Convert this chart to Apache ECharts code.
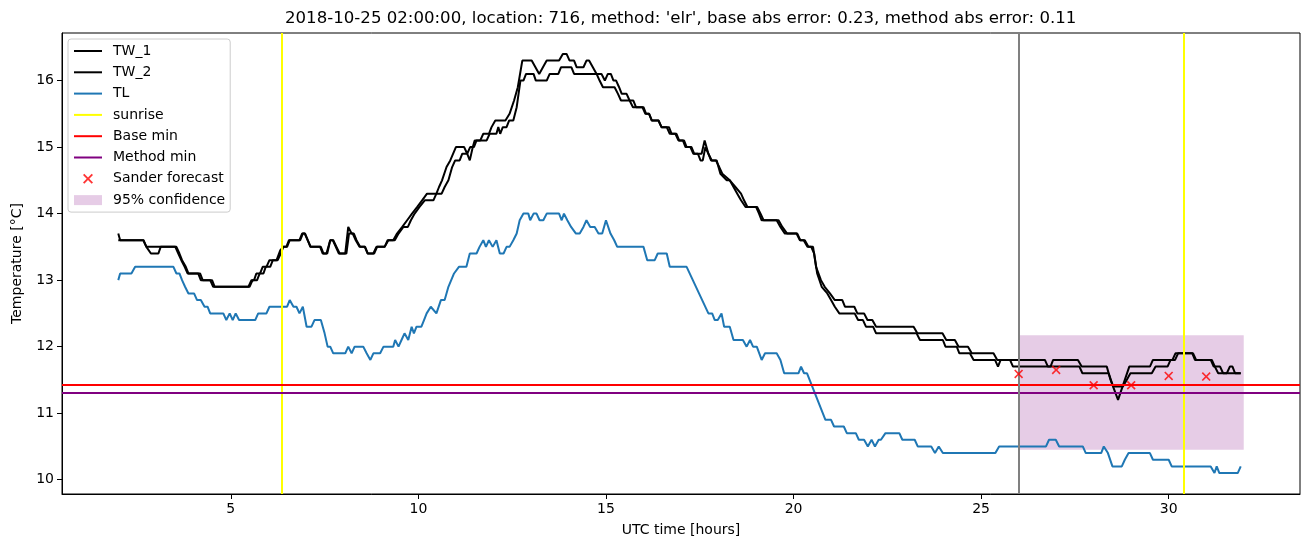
<!DOCTYPE html>
<html>
<head>
<meta charset="utf-8">
<script src="https://cdn.jsdelivr.net/npm/echarts@6/dist/echarts.min.js"></script>
<style>
html,body{margin:0;padding:0;background:#fff;}
#chart{width:1311px;height:547px;}
</style>
</head>
<body>
<div id="chart"></div>
<script>
// ---- data (hours, °C) ----
const TW_1 = [[2.00,13.7],[2.05,13.6],[2.67,13.6],[2.75,13.5],[3.52,13.5],[3.6,13.4],[3.68,13.3],[3.77,13.2],[3.85,13.1],[4.18,13.1],[4.25,13.0],[4.5,13.0],[4.57,12.9],[5.47,12.9],[5.55,13.0],[5.62,13.0],[5.68,13.1],[5.78,13.1],[5.85,13.2],[5.95,13.2],[6.03,13.3],[6.22,13.3],[6.32,13.45],[6.4,13.5],[6.48,13.5],[6.55,13.6],[6.83,13.6],[6.9,13.7],[6.97,13.7],[7.05,13.6],[7.12,13.5],[7.38,13.5],[7.45,13.4],[7.55,13.4],[7.65,13.6],[7.72,13.6],[7.88,13.4],[8.05,13.4],[8.13,13.8],[8.22,13.7],[8.28,13.7],[8.35,13.6],[8.45,13.5],[8.58,13.5],[8.65,13.4],[8.8,13.4],[8.88,13.5],[9.1,13.5],[9.18,13.6],[9.33,13.6],[9.43,13.7],[9.57,13.8],[9.7,13.9],[9.83,14.0],[9.97,14.1],[10.1,14.2],[10.23,14.3],[10.48,14.3],[10.55,14.4],[10.63,14.5],[10.75,14.7],[10.85,14.8],[11.0,15.0],[11.22,15.0],[11.3,14.9],[11.38,15.0],[11.48,15.0],[11.55,15.1],[11.65,15.1],[11.73,15.2],[11.88,15.2],[11.95,15.3],[12.05,15.4],[12.32,15.4],[12.43,15.5],[12.55,15.7],[12.65,15.9],[12.77,16.3],[13.02,16.3],[13.12,16.2],[13.22,16.1],[13.32,16.2],[13.42,16.3],[13.75,16.3],[13.85,16.4],[13.95,16.4],[14.03,16.3],[14.15,16.3],[14.22,16.2],[14.4,16.2],[14.48,16.3],[14.55,16.3],[14.65,16.2],[14.75,16.1],[14.88,16.1],[14.97,16.0],[15.05,16.1],[15.13,16.1],[15.2,16.0],[15.27,16.0],[15.35,15.9],[15.42,15.8],[15.55,15.8],[15.63,15.7],[15.72,15.6],[15.97,15.6],[16.05,15.5],[16.15,15.5],[16.22,15.4],[16.4,15.4],[16.48,15.3],[16.68,15.3],[16.75,15.2],[16.85,15.2],[16.93,15.1],[17.05,15.1],[17.12,15.0],[17.25,15.0],[17.33,14.9],[17.55,14.9],[17.63,15.1],[17.73,14.9],[17.8,14.8],[17.95,14.8],[18.05,14.6],[18.22,14.5],[18.3,14.5],[18.4,14.4],[18.5,14.3],[18.6,14.2],[18.72,14.1],[19.0,14.1],[19.08,14.0],[19.15,13.9],[19.6,13.9],[19.7,13.8],[19.83,13.7],[20.08,13.7],[20.17,13.6],[20.3,13.6],[20.4,13.5],[20.52,13.5],[20.6,13.2],[20.73,13.0],[20.83,12.9],[20.97,12.8],[21.1,12.7],[21.3,12.7],[21.37,12.6],[21.62,12.6],[21.7,12.5],[21.88,12.5],[21.97,12.4],[22.1,12.4],[22.2,12.3],[23.2,12.3],[23.3,12.2],[23.97,12.2],[24.07,12.1],[24.3,12.1],[24.4,12.0],[24.65,12.0],[24.75,11.9],[25.33,11.9],[25.43,11.8],[26.7,11.8],[26.78,11.7],[26.85,11.7],[26.92,11.8],[27.58,11.8],[27.68,11.7],[28.35,11.7],[28.45,11.5],[28.65,11.2],[28.83,11.5],[28.95,11.7],[29.5,11.7],[29.58,11.8],[30.0,11.8],[30.1,11.8],[30.18,11.9],[30.65,11.9],[30.73,11.8],[31.15,11.8],[31.23,11.7],[31.32,11.6],[31.55,11.6],[31.63,11.7],[31.7,11.7],[31.77,11.6],[31.92,11.6]];

const TW_2 = [[2.00,13.6],[2.67,13.6],[2.75,13.5],[2.8,13.5],[2.87,13.4],[3.07,13.4],[3.13,13.5],[3.55,13.5],[3.63,13.4],[3.7,13.3],[3.8,13.2],[3.87,13.1],[4.13,13.1],[4.2,13.0],[4.45,13.0],[4.53,12.9],[5.5,12.9],[5.58,13.0],[5.7,13.0],[5.77,13.1],[5.87,13.1],[5.93,13.2],[6.05,13.2],[6.12,13.3],[6.25,13.3],[6.33,13.4],[6.4,13.5],[6.5,13.5],[6.57,13.6],[6.85,13.6],[6.92,13.7],[6.98,13.7],[7.05,13.6],[7.13,13.5],[7.4,13.5],[7.47,13.4],[7.57,13.4],[7.65,13.6],[7.73,13.6],[7.9,13.4],[8.08,13.4],[8.15,13.7],[8.25,13.7],[8.33,13.6],[8.43,13.5],[8.57,13.5],[8.65,13.4],[8.82,13.4],[8.9,13.5],[9.1,13.5],[9.2,13.6],[9.37,13.6],[9.47,13.7],[9.6,13.8],[9.72,13.8],[9.8,13.9],[9.9,14.0],[10.03,14.1],[10.17,14.2],[10.4,14.2],[10.48,14.3],[10.62,14.3],[10.7,14.4],[10.8,14.5],[10.9,14.7],[10.98,14.8],[11.1,14.8],[11.17,14.9],[11.3,14.9],[11.37,14.8],[11.45,15.0],[11.5,15.1],[11.82,15.1],[11.9,15.2],[12.08,15.2],[12.13,15.3],[12.18,15.2],[12.25,15.3],[12.35,15.3],[12.42,15.4],[12.53,15.4],[12.62,15.6],[12.72,16.0],[12.8,16.0],[12.87,16.1],[13.07,16.1],[13.13,16.0],[13.42,16.0],[13.5,16.1],[13.73,16.1],[13.8,16.2],[14.08,16.2],[14.15,16.1],[14.75,16.1],[14.83,16.0],[14.92,15.9],[15.23,15.9],[15.32,15.8],[15.4,15.7],[15.73,15.7],[15.8,15.6],[16.0,15.6],[16.07,15.5],[16.15,15.5],[16.22,15.4],[16.4,15.4],[16.48,15.3],[16.62,15.3],[16.7,15.2],[16.88,15.2],[16.95,15.1],[17.08,15.1],[17.15,15.0],[17.28,15.0],[17.35,14.9],[17.45,14.9],[17.52,14.8],[17.58,14.8],[17.65,15.0],[17.73,14.9],[17.82,14.8],[17.93,14.8],[18.02,14.7],[18.1,14.6],[18.3,14.5],[18.45,14.4],[18.6,14.3],[18.68,14.2],[18.77,14.1],[19.03,14.1],[19.12,14.0],[19.2,13.9],[19.55,13.9],[19.65,13.8],[19.77,13.7],[20.1,13.7],[20.18,13.6],[20.27,13.6],[20.37,13.5],[20.47,13.5],[20.55,13.4],[20.63,13.1],[20.75,12.9],[20.9,12.8],[21.0,12.7],[21.1,12.6],[21.22,12.5],[21.63,12.5],[21.72,12.4],[21.85,12.4],[21.93,12.3],[22.12,12.3],[22.2,12.2],[23.28,12.2],[23.37,12.1],[23.98,12.1],[24.05,12.0],[24.35,12.0],[24.42,11.9],[24.7,11.9],[24.8,11.8],[25.37,11.8],[25.45,11.7],[25.52,11.8],[25.77,11.8],[25.85,11.7],[27.62,11.7],[27.7,11.6],[28.4,11.6],[28.52,11.4],[28.78,11.4],[28.88,11.5],[28.98,11.6],[29.55,11.6],[29.65,11.7],[29.97,11.7],[30.05,11.8],[30.17,11.8],[30.25,11.9],[30.63,11.9],[30.7,11.8],[31.12,11.8],[31.2,11.7],[31.37,11.7],[31.45,11.6],[31.92,11.6]];

const TL = [[2.0,13.0],[2.05,13.1],[2.35,13.1],[2.45,13.2],[3.47,13.2],[3.55,13.1],[3.63,13.1],[3.7,13.0],[3.78,12.9],[3.87,12.8],[4.02,12.8],[4.1,12.7],[4.2,12.7],[4.3,12.6],[4.38,12.6],[4.45,12.5],[4.8,12.5],[4.88,12.4],[4.97,12.5],[5.05,12.4],[5.13,12.5],[5.22,12.4],[5.65,12.4],[5.73,12.5],[5.95,12.5],[6.03,12.6],[6.5,12.6],[6.57,12.7],[6.67,12.6],[6.75,12.6],[6.83,12.5],[6.92,12.6],[7.02,12.3],[7.15,12.3],[7.23,12.4],[7.4,12.4],[7.5,12.2],[7.58,12.0],[7.65,12.0],[7.73,11.9],[8.05,11.9],[8.13,12.0],[8.22,11.9],[8.3,12.0],[8.53,12.0],[8.62,11.9],[8.72,11.8],[8.8,11.9],[8.98,11.9],[9.07,12.0],[9.33,12.0],[9.38,12.1],[9.47,12.0],[9.55,12.1],[9.63,12.2],[9.73,12.1],[9.82,12.3],[9.88,12.2],[9.95,12.3],[10.08,12.3],[10.15,12.4],[10.22,12.5],[10.33,12.6],[10.48,12.5],[10.6,12.7],[10.7,12.7],[10.8,12.9],[10.95,13.1],[11.08,13.2],[11.28,13.2],[11.37,13.4],[11.55,13.4],[11.63,13.5],[11.73,13.6],[11.8,13.5],[11.88,13.6],[11.98,13.5],[12.08,13.6],[12.17,13.4],[12.27,13.4],[12.35,13.5],[12.43,13.5],[12.53,13.6],[12.62,13.7],[12.7,13.9],[12.8,14.0],[12.93,14.0],[12.98,13.9],[13.07,14.0],[13.15,14.0],[13.23,13.9],[13.33,13.9],[13.42,14.0],[13.75,14.0],[13.82,13.9],[13.88,14.0],[13.97,13.9],[14.07,13.8],[14.2,13.7],[14.3,13.7],[14.4,13.8],[14.48,13.9],[14.58,13.8],[14.7,13.8],[14.8,13.7],[14.9,13.7],[15.0,13.9],[15.12,13.7],[15.22,13.6],[15.3,13.5],[16.0,13.5],[16.1,13.3],[16.3,13.3],[16.38,13.4],[16.62,13.4],[16.7,13.2],[17.15,13.2],[17.73,12.5],[17.83,12.5],[17.9,12.4],[17.98,12.4],[18.08,12.5],[18.15,12.3],[18.3,12.3],[18.4,12.1],[18.65,12.1],[18.75,12.0],[18.84,12.1],[18.92,12.0],[19.02,12.0],[19.15,11.8],[19.24,11.9],[19.55,11.9],[19.65,11.8],[19.75,11.6],[20.13,11.6],[20.2,11.7],[20.28,11.6],[20.36,11.6],[20.85,10.9],[21.0,10.9],[21.08,10.8],[21.34,10.8],[21.42,10.7],[21.66,10.7],[21.74,10.6],[21.88,10.6],[21.98,10.5],[22.08,10.6],[22.17,10.5],[22.27,10.6],[22.33,10.6],[22.45,10.7],[22.82,10.7],[22.9,10.6],[23.23,10.6],[23.31,10.5],[23.67,10.5],[23.77,10.4],[23.87,10.5],[23.98,10.4],[25.38,10.4],[25.48,10.5],[26.73,10.5],[26.81,10.6],[26.99,10.6],[27.08,10.5],[27.71,10.5],[27.79,10.4],[28.2,10.4],[28.27,10.5],[28.38,10.4],[28.5,10.2],[28.75,10.2],[28.83,10.3],[28.93,10.4],[29.5,10.4],[29.58,10.3],[30.0,10.3],[30.08,10.2],[31.12,10.2],[31.22,10.1],[31.28,10.2],[31.35,10.1],[31.84,10.1],[31.92,10.2]];

const sunrise = [6.36, 30.40];
const forecastStart = [26];
const baseMin = [11.43];
const methodMin = [11.31];
const sander = [[26,11.59],[27,11.65],[28,11.42],[29,11.42],[30,11.56],[31,11.55]];
const confX = [26, 32];
const confY = [10.45, 12.17];
const xTicks = [5, 10, 15, 20, 25, 30];
const yTicks = [10, 11, 12, 13, 14, 15, 16];
const xRange = [0.5, 33.5];
const yRange = [9.785, 16.715];
const titleText = "2018-10-25 02:00:00, location: 716, method: 'elr', base abs error: 0.23, method abs error: 0.11";

const FONT = 'DejaVu Sans';
const X_PATH = 'path://M0,1.3L1.3,0L5,3.7L8.7,0L10,1.3L6.3,5L10,8.7L8.7,10L5,6.3L1.3,10L0,8.7L3.7,5Z';

function vline(values, color) {
  return { silent: true, symbol: ['none', 'none'], label: { show: false },
    lineStyle: { color: color, width: 2, type: 'solid' },
    emphasis: { disabled: true },
    data: values.map(v => ({ xAxis: v })) };
}
function hline(values, color) {
  return { silent: true, symbol: ['none', 'none'], label: { show: false },
    lineStyle: { color: color, width: 2, type: 'solid' },
    emphasis: { disabled: true },
    data: values.map(v => ({ yAxis: v })) };
}
function lineSeries(name, data, color) {
  return { name: name, type: 'line', data: data, symbol: 'none', showSymbol: false,
    color: color, lineStyle: { color: color, width: 2 }, itemStyle: { color: color },
    emphasis: { disabled: true }, animation: false };
}
const noDot = { opacity: 0 };

const chart = echarts.init(document.getElementById('chart'), null, { renderer: 'canvas' });
const option = {
  animation: false,
  backgroundColor: '#fff',
  textStyle: { fontFamily: FONT },
  title: {
    text: titleText, left: 280, top: 5, padding: 5,
    textStyle: { fontFamily: FONT, fontSize: 16.6, fontWeight: 'normal', color: '#000' }
  },
  grid: { left: 62, right: 11, top: 33, bottom: 53, show: true, borderColor: '#000', borderWidth: 1, backgroundColor: 'transparent' },
  legend: {
    orient: 'vertical', left: 68, top: 39, selectedMode: false,
    itemWidth: 28, itemHeight: 10, itemGap: 7.3, padding: [5, 5, 5, 5],
    borderColor: '#cccccc', borderWidth: 1, borderRadius: 3, backgroundColor: 'rgba(255,255,255,0.8)',
    lineStyle: { width: 2 },
    textStyle: { fontFamily: FONT, fontSize: 14, color: '#000', padding: [0, 0, 0, 6] },
    data: [
      { name: 'TW_1', itemStyle: noDot }, { name: 'TW_2', itemStyle: noDot }, { name: 'TL', itemStyle: noDot },
      { name: 'sunrise', itemStyle: noDot }, { name: 'Base min', itemStyle: noDot }, { name: 'Method min', itemStyle: noDot },
      { name: 'Sander forecast', icon: X_PATH },
      { name: '95% confidence', icon: 'rect', itemStyle: { color: 'rgba(128,0,128,0.2)' } }
    ]
  },
  xAxis: {
    type: 'value', min: xRange[0], max: xRange[1],
    axisLine: { show: true, onZero: false, lineStyle: { color: '#000', width: 1 } },
    axisTick: { show: true, inside: false, length: 5, customValues: xTicks, lineStyle: { color: '#000', width: 1 } },
    axisLabel: { customValues: xTicks, color: '#000', fontFamily: FONT, fontSize: 14, margin: 8 },
    splitLine: { show: false },
    name: 'UTC time [hours]', nameLocation: 'middle', nameGap: 29,
    nameTextStyle: { fontFamily: FONT, fontSize: 14, color: '#000' }
  },
  yAxis: {
    type: 'value', min: yRange[0], max: yRange[1],
    axisLine: { show: true, onZero: false, lineStyle: { color: '#000', width: 1 } },
    axisTick: { show: true, inside: false, length: 5, customValues: yTicks, lineStyle: { color: '#000', width: 1 } },
    axisLabel: { customValues: yTicks, color: '#000', fontFamily: FONT, fontSize: 14, margin: 8 },
    splitLine: { show: false },
    name: 'Temperature [°C]', nameLocation: 'middle', nameGap: 38, nameRotate: 90,
    nameTextStyle: { fontFamily: FONT, fontSize: 14, color: '#000' }
  },
  series: [
    Object.assign(lineSeries('95% confidence', [], 'rgba(128,0,128,0.2)'), {
      z: 1,
      markArea: { silent: true, itemStyle: { color: 'rgba(128,0,128,0.2)' }, label: { show: false },
        data: [[{ xAxis: confX[0], yAxis: confY[0] }, { xAxis: confX[1], yAxis: confY[1] }]] }
    }),
    lineSeries('TW_1', TW_1, '#000000'),
    lineSeries('TW_2', TW_2, '#000000'),
    lineSeries('TL', TL, '#1f77b4'),
    Object.assign(lineSeries('sunrise', [], '#ffff00'), { markLine: vline(sunrise, '#ffff00') }),
    Object.assign(lineSeries('Base min', [], '#ff0000'), { markLine: hline(baseMin, '#ff0000') }),
    Object.assign(lineSeries('Method min', [], '#800080'), { markLine: hline(methodMin, '#800080') }),
    Object.assign(lineSeries('forecast start', [], '#808080'), { markLine: vline(forecastStart, '#808080') }),
    { name: 'Sander forecast', type: 'scatter', data: sander, symbol: X_PATH, symbolSize: 9,
      symbolKeepAspect: true, color: '#ff0000', itemStyle: { color: '#ff0000' },
      emphasis: { disabled: true }, z: 5 }
  ]
};
chart.setOption(option);
</script>
</body>
</html>
